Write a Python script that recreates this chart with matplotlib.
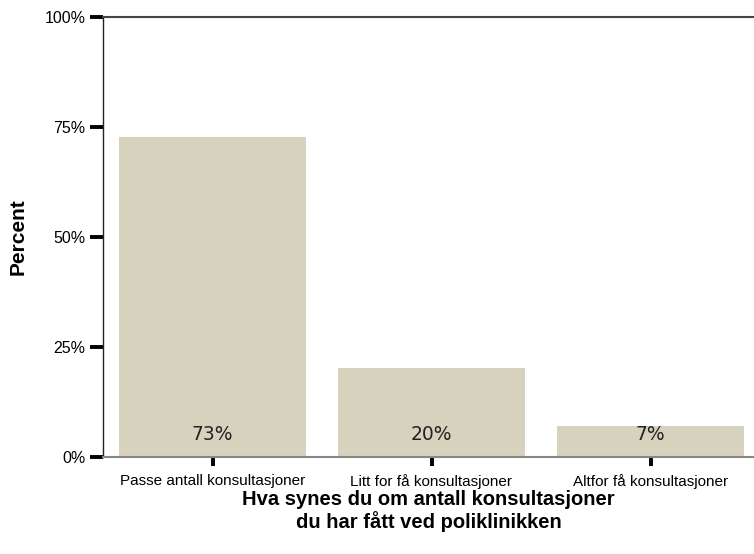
import matplotlib.pyplot as plt

categories = ["Passe antall konsultasjoner", "Litt for få konsultasjoner", "Altfor få konsultasjoner"]
percent = [72.8, 20.3, 7.0]
bar_labels = ["73%", "20%", "7%"]
y_ticks = [0, 25, 50, 75, 100]
y_tick_labels = ["0%", "25%", "50%", "75%", "100%"]

bar_color = "#D6D2BE"
sans = ["Liberation Sans", "DejaVu Sans"]

fig = plt.figure(figsize=(7.54, 5.54), dpi=100)
ax = fig.add_axes([103 / 754, 97 / 554, (754 - 103) / 754, 440 / 554])

x = list(range(len(categories)))
ax.bar(x, percent, width=0.85, color=bar_color, edgecolor="none", zorder=2)
for xi, lab in zip(x, bar_labels):
    ax.text(xi, 5, lab, ha="center", va="center", fontsize=13.5,
            color="#222222", family=["DejaVu Sans"], zorder=3)

ax.set_xlim(-0.5, 2.5 - 6 / 219)
ax.set_ylim(0, 100)
ax.set_yticks(y_ticks)
ax.set_yticklabels(y_tick_labels, family=sans, fontsize=11.5)
ax.set_xticks(x)
ax.set_xticklabels(categories, family=sans, fontsize=11)
ax.tick_params(axis="y", direction="out", length=9.5, width=2.8, color="black", pad=3)
ax.tick_params(axis="x", direction="out", length=6.5, width=2.8, color="black", pad=6)

ax.spines["right"].set_visible(False)
ax.spines["left"].set_color("#222222")
ax.spines["left"].set_linewidth(1)
ax.spines["top"].set_color("#444444")
ax.spines["top"].set_linewidth(1.5)
ax.spines["bottom"].set_color("#888888")
ax.spines["bottom"].set_linewidth(1.5)

ax.set_ylabel("Percent", family=sans, fontsize=15, fontweight="bold", labelpad=12)
ax.set_xlabel("Hva synes du om antall konsultasjoner\ndu har fått ved poliklinikken",
              family=sans, fontsize=14.5, fontweight="bold", labelpad=0.5, linespacing=1.1)

fig.savefig("out.png", dpi=100)
